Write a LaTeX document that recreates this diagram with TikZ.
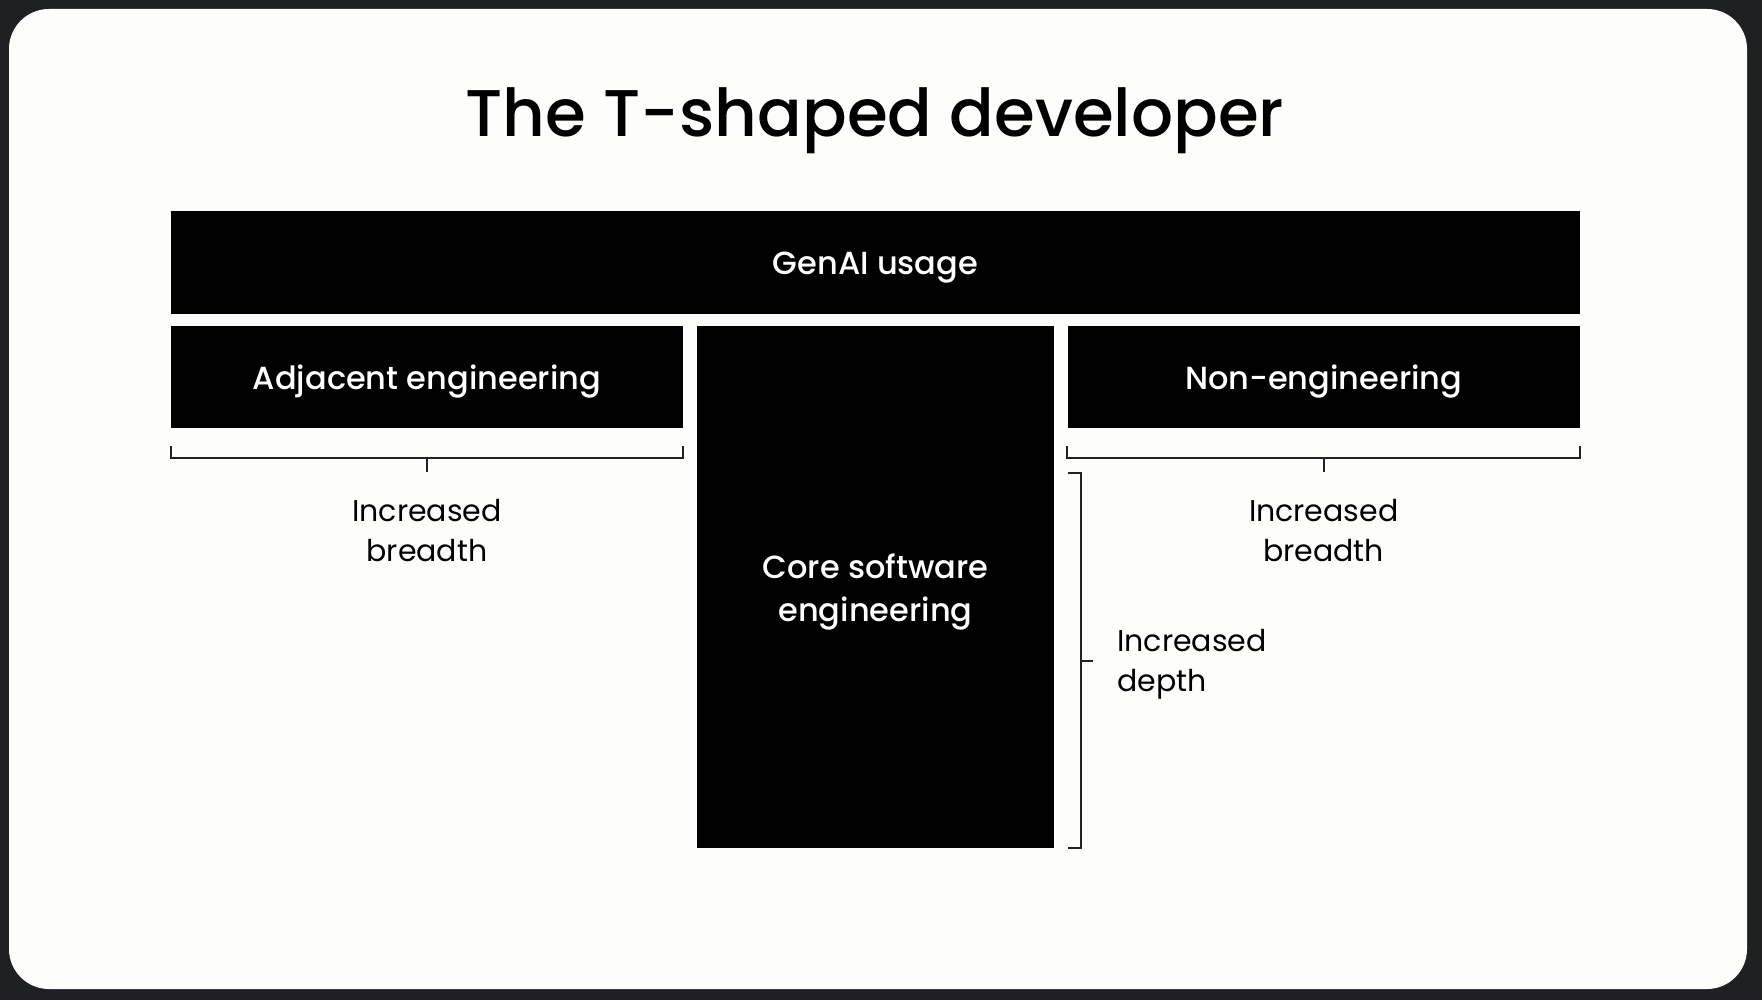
\documentclass[tikz,border=0pt]{standalone}
\usepackage{fontspec}
\setmainfont{Poppins}[BoldFont={Poppins Medium}]
\definecolor{outerbg}{HTML}{1F2022}
\definecolor{cardbg}{HTML}{FDFDFC}
\definecolor{brkcol}{HTML}{222222}
\tikzset{
  box/.style={fill=black, inner sep=0pt},
  boxlbl/.style={text=white, inner sep=0pt, yshift=-4.5pt, font=\bfseries\fontsize{32}{43}\selectfont, align=center},
  boxtext/.style={label={[boxlbl]center:#1}},
  lbl/.style={text=black, inner sep=0pt, font=\fontsize{30}{40}\selectfont, align=center},
  brk/.style={draw=brkcol, line width=2pt},
}
\begin{document}
\begin{tikzpicture}[x=1pt,y=-1pt]
\useasboundingbox (0,0) rectangle (1762,1000);
\fill[outerbg] (0,0) rectangle (1762,1000);
\fill[cardbg, rounded corners=40pt] (9,9) rectangle (1747,989);
\node[font=\bfseries\fontsize{66}{76}\selectfont, anchor=base, inner sep=0pt] (title) at (875,137) {The T-shaped developer};
\node[box, minimum width=1409pt, minimum height=103pt, boxtext={GenAI usage}] (genai) at (875.4,263) {};
\node[box, minimum width=512.4pt, minimum height=102.2pt, boxtext={Adjacent engineering}] (adj) at (427,377) {};
\node[box, minimum width=357.3pt, minimum height=522.5pt, boxtext={Core software\\engineering}] (core) at (875.4,587.2) {};
\node[box, minimum width=512.4pt, minimum height=102.2pt, boxtext={Non-engineering}] (non) at (1323.7,377) {};
% breadth brackets
\draw[brk] ([yshift=-18pt]adj.south west) -- ([yshift=-30pt]adj.south west) -- ([yshift=-30pt]adj.south east) -- ([yshift=-18pt]adj.south east);
\draw[brk] ([yshift=-30pt]adj.south) -- ([yshift=-44pt]adj.south);
\draw[brk] ([yshift=-18pt]non.south west) -- ([yshift=-30pt]non.south west) -- ([yshift=-30pt]non.south east) -- ([yshift=-18pt]non.south east);
\draw[brk] ([yshift=-30pt]non.south) -- ([yshift=-44pt]non.south);
% depth bracket
\coordinate (dtl) at (1067.5,473);
\coordinate (dtr) at (1081,473);
\coordinate (dbr) at (1081,848.4);
\coordinate (dbl) at (1067.5,848.4);
\coordinate (dmid) at (1081,660.5);
\coordinate (dtick) at (1093,660.5);
\draw[brk] (dtl) -- (dtr) -- (dbr) -- (dbl);
\draw[brk] (dmid) -- (dtick);
% labels
\node[lbl] (lb1) at (427,531) {Increased\\breadth};
\node[lbl] (lb2) at (1323.7,531) {Increased\\breadth};
\node[lbl, anchor=west, align=left] (ld) at (1117,664.5) {Increased\\depth};
\end{tikzpicture}
\end{document}
